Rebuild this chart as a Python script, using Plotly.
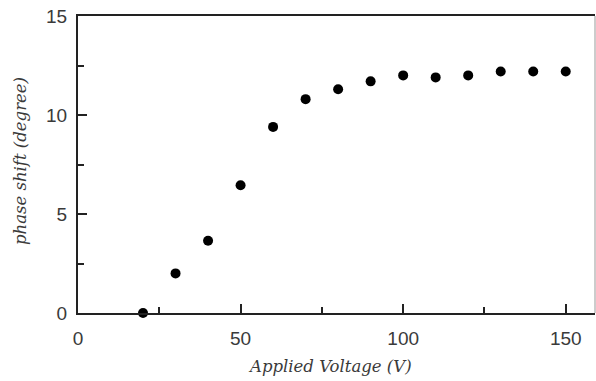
import plotly.graph_objects as go

voltage = [20, 30, 40, 50, 60, 70, 80, 90, 100, 110, 120, 130, 140, 150]
phase_shift = [0.0, 2.0, 3.65, 6.45, 9.4, 10.8, 11.3, 11.7, 12.0, 11.9, 12.0, 12.2, 12.2, 12.2]

x_title = "Applied Voltage (V)"
y_title = "phase shift (degree)"

W, H = 596, 381
L, R, T, B = 78, 1, 16, 68
PW, PH = W - L - R, H - T - B

fig = go.Figure()
fig.add_trace(go.Scatter(
    x=voltage, y=phase_shift, mode="markers",
    marker=dict(color="black", size=10),
    cliponaxis=False, showlegend=False,
))

tickfont = dict(family="Liberation Sans, Arial", size=19, color="#3a3a3a")
titlefont = dict(family="DejaVu Serif, serif", size=16.5, color="#3a3a3a")

fig.update_layout(
    width=W, height=H,
    margin=dict(l=L, r=R, t=T, b=B),
    paper_bgcolor="white", plot_bgcolor="white",
    xaxis=dict(
        range=[0, 159], tickmode="array", tickvals=[0, 50, 100, 150],
        ticks="inside", ticklen=9, tickwidth=2, tickcolor="#222",
        showline=True, linewidth=2, linecolor="#222", mirror=True,
        showgrid=False, zeroline=False, tickfont=tickfont, automargin=False,
        ticklabelstandoff=7,
        minor=dict(tickmode="array", tickvals=[25, 75, 125], ticks="inside",
                   ticklen=6, tickwidth=2, tickcolor="#222"),
    ),
    yaxis=dict(
        range=[0, 15], tickmode="array", tickvals=[0, 5, 10, 15],
        ticks="inside", ticklen=9, tickwidth=2, tickcolor="#222",
        showline=True, linewidth=2, linecolor="#222",
        showgrid=False, zeroline=False, tickfont=tickfont, automargin=False,
        ticklabelstandoff=5,
        minor=dict(tickmode="array", tickvals=[2.5, 7.5, 12.5], ticks="inside",
                   ticklen=6, tickwidth=2, tickcolor="#222"),
    ),
    shapes=[dict(type="line", xref="paper", yref="paper", x0=1, x1=1, y0=0, y1=1,
                 line=dict(color="#999", width=1))],
    annotations=[
        dict(text="<i>" + x_title + "</i>", xref="paper", yref="paper",
             x=(330 - L) / PW, y=-(366 - (T + PH)) / PH,
             xanchor="center", yanchor="middle", showarrow=False, font=titlefont),
        dict(text="<i>" + y_title + "</i>", xref="paper", yref="paper",
             x=(20 - L) / PW, y=((T + PH) - 161) / PH, textangle=-90,
             xanchor="center", yanchor="middle", showarrow=False, font=titlefont),
    ],
)

fig.write_html(
    "out.html",
    config={"displayModeBar": False},
    post_script="document.body.style.margin='0';document.body.style.overflow='hidden';",
)
